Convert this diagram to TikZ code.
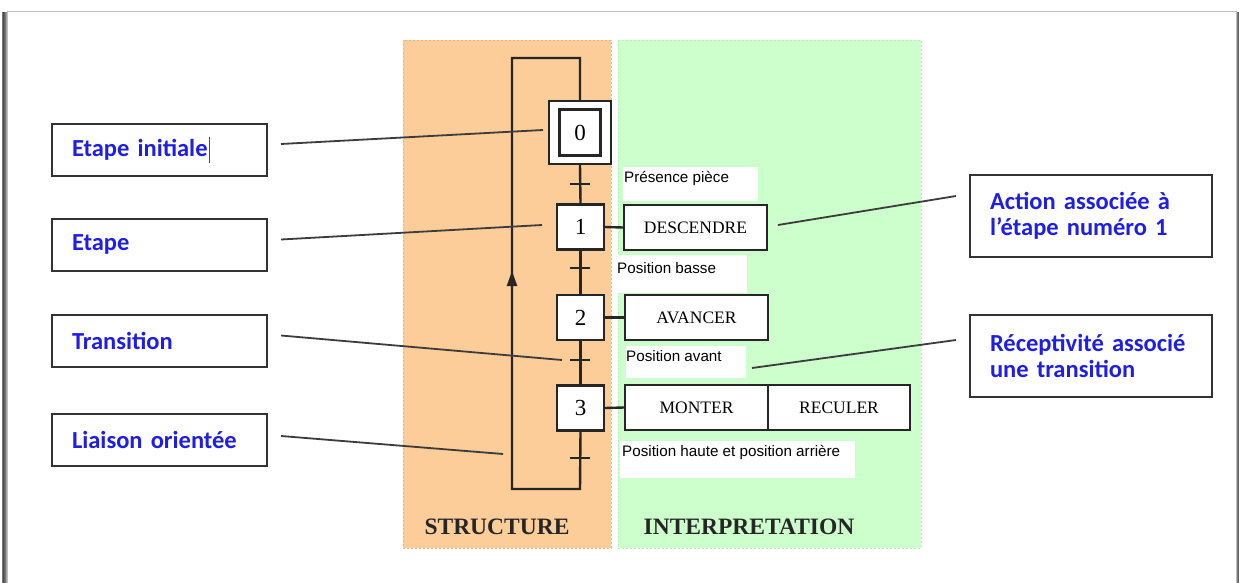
\documentclass[tikz,border=0pt]{standalone}
\usepackage{fontspec}
\setmainfont{Liberation Serif}
\newfontfamily\labelfont{Carlito}
\newfontfamily\condfont{Liberation Sans}
\usetikzlibrary{arrows.meta}
\definecolor{structfill}{RGB}{252,204,153}
\definecolor{structedge}{RGB}{240,180,130}
\definecolor{interpfill}{RGB}{204,255,204}
\definecolor{interpedge}{RGB}{185,240,185}
\definecolor{labelblue}{RGB}{30,30,230}
\definecolor{leader}{RGB}{60,60,60}
\tikzset{
  grafline/.style={line width=2.4pt, black!85},
  stepbox/.style={draw=black!85, line width=2.4pt, fill=white, minimum width=47, minimum height=45,
    inner sep=0pt, font=\fontsize{23}{23}\selectfont},
  actbox/.style={draw=black!85, line width=2.4pt, fill=white, minimum width=143, minimum height=45,
    inner sep=0pt, font=\fontsize{17.5}{18}\selectfont},
  recept/.style={fill=white, anchor=north west, inner sep=0pt},
  recepttext/.style={anchor=west, inner sep=0pt, font=\condfont\fontsize{15.2}{16}\selectfont},
  callout/.style={draw=black!80, line width=2pt, fill=white, inner ysep=0pt, inner xsep=20pt,
    minimum width=215, minimum height=52, font=\labelfont\bfseries\fontsize{24.5}{26}\selectfont,
    text=labelblue, align=left},
  leaderline/.style={draw=leader, line width=1.8pt},
  panel/.style={line width=0.8pt, dashed, dash pattern=on 2pt off 2pt},
  title/.style={font=\bfseries\fontsize{23.5}{24}\selectfont, text=black!85}
}
\begin{document}
\begin{tikzpicture}[x=1pt,y=-1pt]
\useasboundingbox (0,0) rectangle (1239,583);
% page frame with soft shadow
\fill[white] (0,0) rectangle (1239,583);
\foreach \o/\c in {4/90,3/80,2/70,1/60}{
  \draw[black!\c!white!100, line width=1.2pt, opacity=0.6] (7-\o,12) -- (7-\o,583);
  \draw[black!\c!white!100, line width=1.2pt, opacity=0.6] (1236+\o,12) -- (1236+\o,583);
}
\draw[black!25, line width=1pt] (7,583) -- (7,12) -- (1236,12) -- (1236,583);

% background panels
\fill[structfill] (403,40) rectangle (611,548);
\draw[structedge, panel] (403,40) rectangle (611,548);
\fill[interpfill] (618,40) rectangle (921,548);
\draw[interpedge, panel] (618,40) rectangle (921,548);
\node[title] (tstruct) at (497,527) {STRUCTURE};
\node[title] (tinterp) at (749,527) {INTERPRETATION};

% steps
\node[draw=black!85, line width=2.4pt, fill=white, minimum width=62, minimum height=63, inner sep=0pt] (s0o) at (580,132.5) {};
\node[stepbox, minimum width=41, minimum height=46] (s0) at (580,132.5) {0};
\node[stepbox] (s1) at (580.5,227) {1};
\node[stepbox] (s2) at (580.5,317.5) {2};
\node[stepbox] (s3) at (580.5,408) {3};

% oriented links
\coordinate (topR) at (580,58);
\coordinate (topL) at (512,58);
\coordinate (botL) at (512,489);
\coordinate (botR) at (580,489);
\coordinate (arrowtip) at (512,271);
\draw[grafline] (s0o.north) -- (topR) -- (topL) -- (botL) -- (botR) -- (s3.south);
\draw[grafline, -{Triangle[length=15pt,width=10pt]}] (512,300) -- (arrowtip);
\draw[grafline] (s0o.south) -- (s1.north);
\draw[grafline] (s1.south) -- (s2.north);
\draw[grafline] (s2.south) -- (s3.north);

% transitions
\foreach \n/\y in {t01/184, t12/268, t23/360, t30/458}{
  \coordinate (\n) at (580,\y);
  \draw[grafline] ([xshift=-10]\n) -- ([xshift=10]\n);
}

% actions
\node[actbox] (a1) at (695.5,227.5) {DESCENDRE};
\node[actbox] (a2) at (696.5,317.5) {AVANCER};
\node[actbox] (a3) at (696.5,407.5) {MONTER};
\node[actbox, minimum width=142] (a3b) at (839,407.5) {RECULER};
\draw[grafline] (s1.east) -- (a1.west);
\draw[grafline] (s2.east) -- (a2.west);
\draw[grafline] (s3.east) -- (a3.west);

% receptivities
\node[recept, minimum width=135, minimum height=34] (r1) at (623,167) {};
\node[recepttext] (r1t) at (624,178) {Présence pièce};
\node[recept, minimum width=131, minimum height=38] (r2) at (616,255) {};
\node[recepttext] (r2t) at (617,268) {Position basse};
\node[recept, minimum width=120, minimum height=32] (r3) at (626,346) {};
\node[recepttext] (r3t) at (626,356) {Position avant};
\node[recept, minimum width=235, minimum height=37] (r4) at (620,441) {};
\node[recepttext] (r4t) at (622,452) {Position haute et position arrière};

% callouts
\node[callout, text width=175] (cInit) at (159.5,150) {Etape initiale};
\draw[black!70, line width=0.7pt] (209,137) -- (209,163);
\node[callout, text width=175] (cStep) at (159.5,244.5) {Etape};
\node[callout, text width=175] (cTrans) at (159.5,340.5) {Transition};
\node[callout, text width=175] (cLink) at (159.5,440) {Liaison orientée};
\node[callout, minimum width=242, minimum height=82, text width=202] (cAct) at (1091,216) {Action associée à\\l’étape numéro 1};
\node[callout, minimum width=242, minimum height=82, text width=202] (cRec) at (1091,356) {Réceptivité associé\\une transition};

% leader lines
\coordinate (pInit) at (543,130);
\coordinate (pStep) at (542,225);
\coordinate (pTrans) at (562,360);
\coordinate (pLink) at (503,454);
\coordinate (pAct) at (778,225);
\coordinate (pRec) at (752,368);
\draw[leaderline] ([xshift=13,yshift=6]cInit.east) -- (pInit);
\draw[leaderline] ([xshift=13,yshift=5]cStep.east) -- (pStep);
\draw[leaderline] ([xshift=13,yshift=5]cTrans.east) -- (pTrans);
\draw[leaderline] ([xshift=13,yshift=4]cLink.east) -- (pLink);
\draw[leaderline] (pAct) -- ([xshift=-13,yshift=20]cAct.west);
\draw[leaderline] (pRec) -- ([xshift=-13,yshift=16]cRec.west);
\end{tikzpicture}
\end{document}
